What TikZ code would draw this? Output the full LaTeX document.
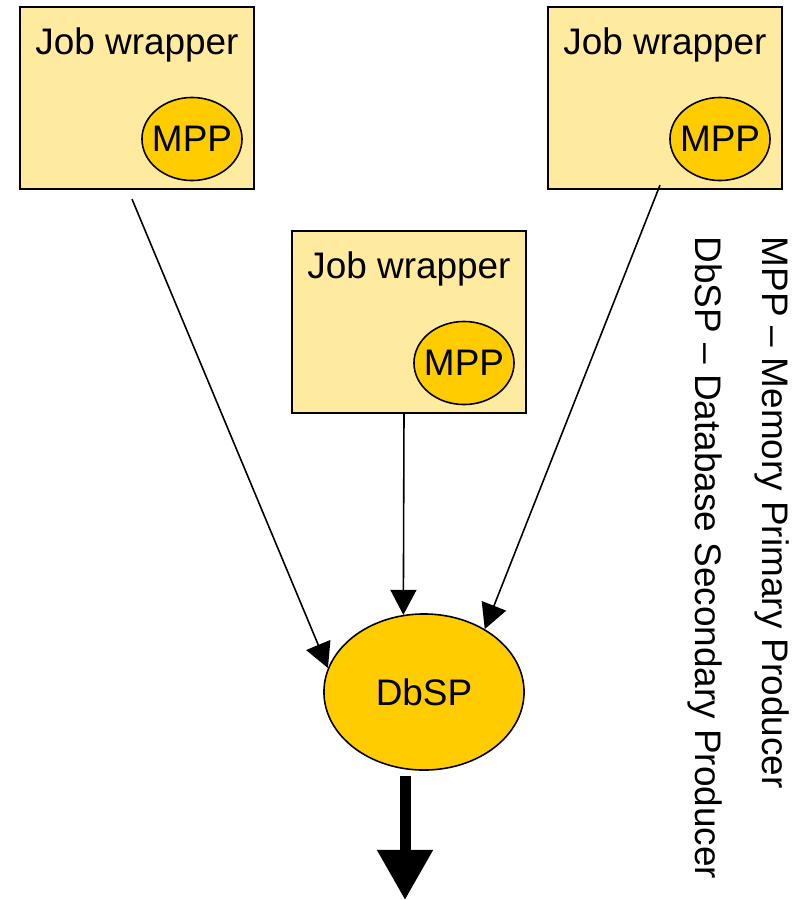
\documentclass[tikz,border=0pt]{standalone}
\usepackage{fontspec}
\setmainfont{Liberation Sans}
\usepackage{xcolor}
\usepackage{tikz}
\usetikzlibrary{shapes.geometric, arrows.meta, positioning, calc}

\definecolor{wrapfill}{RGB}{255,235,160}
\definecolor{prodfill}{RGB}{255,204,0}

\begin{document}
\begin{tikzpicture}[x=0.01cm, y=-0.01cm,
    every node/.style={font=\fontsize{10.5}{12.6}\selectfont},
    wrapper/.style={draw, line width=0.6pt, fill=wrapfill, minimum width=2.34cm, minimum height=1.82cm, inner sep=0pt},
    producer/.style={ellipse, draw, line width=0.45pt, fill=prodfill, inner xsep=-0.05cm, inner ysep=0pt, minimum width=1cm, minimum height=0.83cm},
    feed/.style={line width=0.45pt, -{Triangle[length=0.25cm, width=0.26cm]}},
    output/.style={line width=0.11cm, -{Triangle[length=0.5cm, width=0.53cm]}}]
    \useasboundingbox (0,0) rectangle (800,900);

    % Job wrapper 1
    \node[wrapper] (jw1) at (137,98) {};
    \node[anchor=base] (jw1lbl) at ([yshift=-0.49cm]jw1.north) {Job wrapper};
    \node[producer] (mpp1) at ([shift={(55,41)}]jw1.center) {MPP};

    % Job wrapper 2
    \node[wrapper] (jw2) at (409,322) {};
    \node[anchor=base] (jw2lbl) at ([yshift=-0.49cm]jw2.north) {Job wrapper};
    \node[producer] (mpp2) at ([shift={(55,41)}]jw2.center) {MPP};

    % Job wrapper 3
    \node[wrapper] (jw3) at (665,98) {};
    \node[anchor=base] (jw3lbl) at ([yshift=-0.49cm]jw3.north) {Job wrapper};
    \node[producer] (mpp3) at ([shift={(55,41)}]jw3.center) {MPP};

    % Secondary producer
    \node[producer, minimum width=2cm, minimum height=1.56cm] (dbsp) at (424,692) {DbSP};

    % Feeds into DbSP
    \draw[feed] ([shift={(-5,9)}]jw1.south) -- (dbsp.166);
    \draw[feed] ([shift={(-5,0)}]jw2.south) -- (dbsp.105);
    \draw[feed] ([shift={(-5,-5)}]jw3.south) -- (dbsp.46);

    % Output
    \coordinate (outlet) at (405,900);
    \draw[output] ([shift={(-19,5)}]dbsp.south) -- (outlet);

    % Legend
    \node[rotate=-90, anchor=base west, inner sep=0pt] (legmpp) at (762,236) {MPP – Memory Primary Producer};
    \node[rotate=-90, anchor=base west, inner sep=0pt] (legdbsp) at (695,236) {DbSP – Database Secondary Producer};
\end{tikzpicture}
\end{document}
